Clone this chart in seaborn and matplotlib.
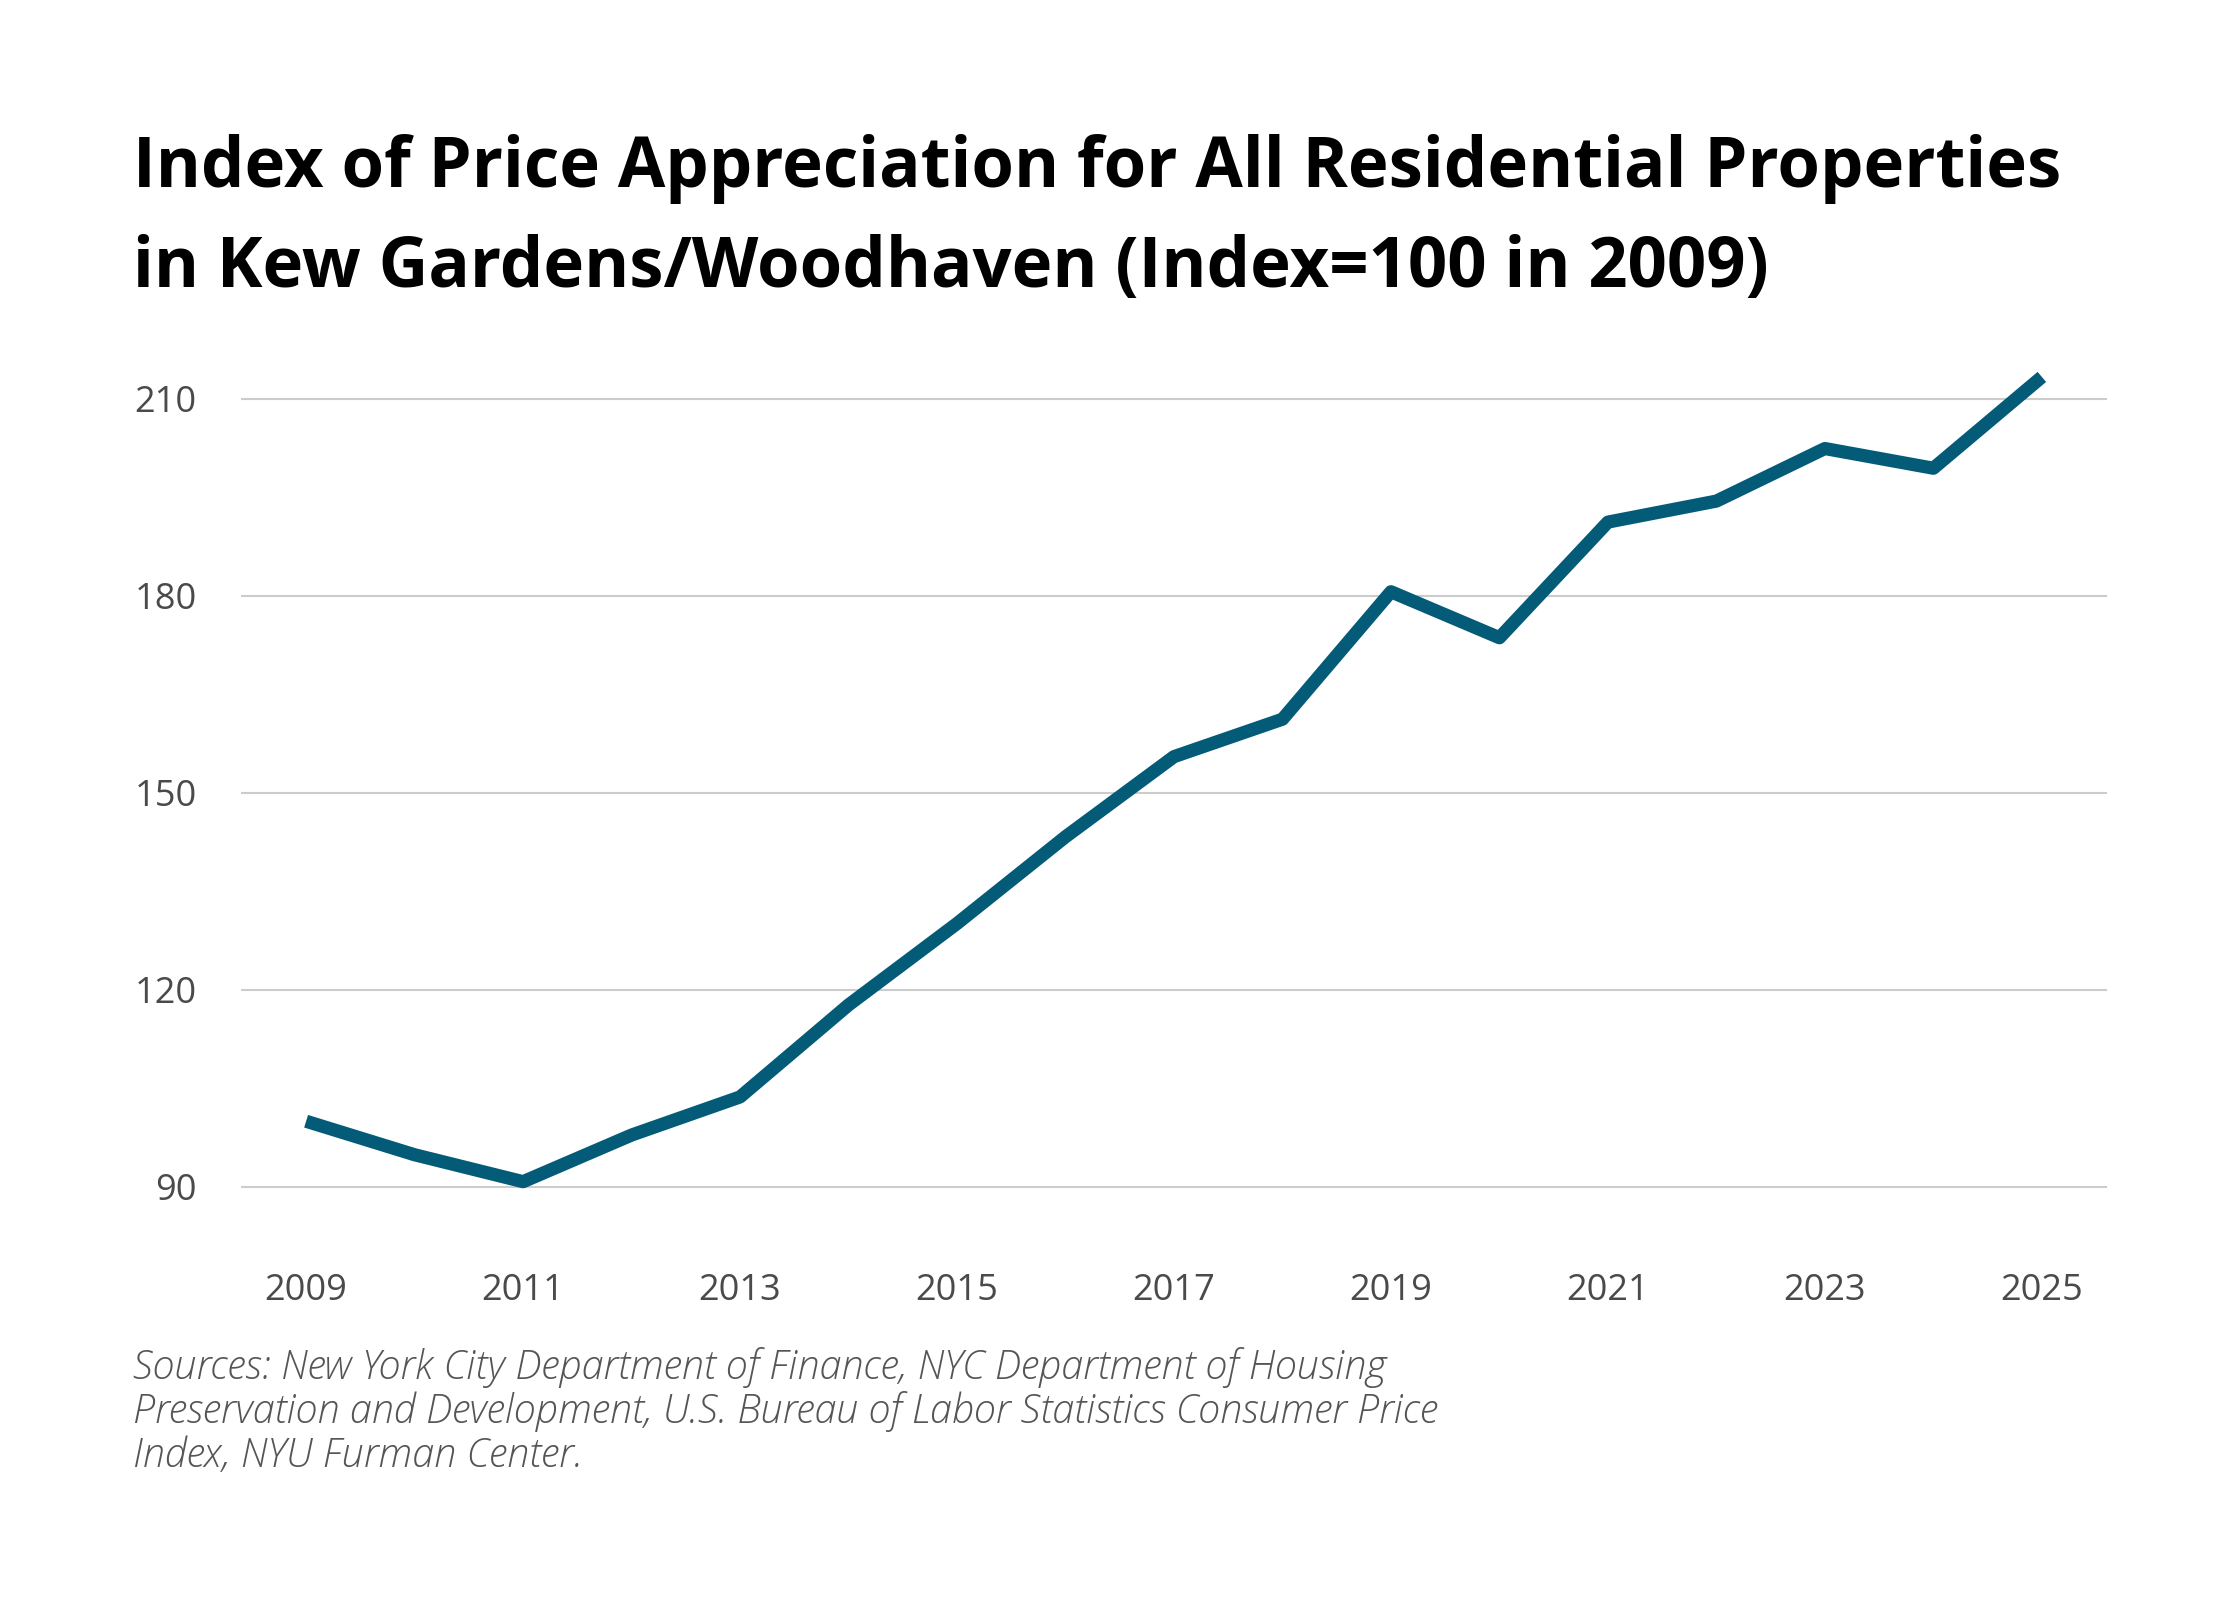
import pandas as pd
import seaborn as sns
import matplotlib.pyplot as plt

# data
years = [2009, 2010, 2011, 2012, 2013, 2014, 2015, 2016, 2017,
         2018, 2019, 2020, 2021, 2022, 2023, 2024, 2025]
index_values = [100.0, 94.9, 90.8, 97.9, 103.7, 117.7, 130.1, 143.3, 155.5,
                161.2, 180.6, 173.6, 191.2, 194.4, 202.4, 199.4, 213.3]
x_ticks = [2009, 2011, 2013, 2015, 2017, 2019, 2021, 2023, 2025]
y_ticks = [90, 120, 150, 180, 210]

title = ("Index of Price Appreciation for All Residential Properties\n"
         "in Kew Gardens/Woodhaven (Index=100 in 2009)")
source = ("Sources: New York City Department of Finance, NYC Department of Housing\n"
          "Preservation and Development, U.S. Bureau of Labor Statistics Consumer Price\n"
          "Index, NYU Furman Center.")

df = pd.DataFrame({'Year': years, 'Index': index_values})

sns.set_style('white')
plt.rcParams['font.family'] = ['Open Sans', 'DejaVu Sans']

fig = plt.figure(figsize=(22.4, 16), dpi=100)
ax = fig.add_axes([0.1076, 0.2171, 0.8330, 0.5543])

sns.lineplot(data=df, x='Year', y='Index', ax=ax, color='#035b78',
             linewidth=9.5, solid_joinstyle='round', solid_capstyle='butt')

ax.set_xlim(2008.4, 2025.6)
ax.set_ylim(80, 215)
ax.set_xticks(x_ticks)
ax.set_yticks(y_ticks)
ax.set_xticklabels([str(t) for t in x_ticks])
ax.set_yticklabels([str(t) for t in y_ticks])
ax.grid(axis='y', color='#cccccc', linewidth=1.5)
ax.set_axisbelow(True)
ax.set_xlabel('')
ax.set_ylabel('')
for s in ax.spines.values():
    s.set_visible(False)
ax.tick_params(axis='both', length=0, labelsize=26, colors='#4a4a4a')
ax.tick_params(axis='x', pad=15)
ax.tick_params(axis='y', pad=32)

fig.text(0.0594, 0.916, title, fontsize=49.5, fontweight='bold', color='black',
         va='top', ha='left', linespacing=1.55)
fig.text(0.0594, 0.158, source, fontsize=28.5, style='italic', fontweight='light',
         color='#555555', va='top', ha='left', linespacing=1.1)

fig.savefig('out.png', dpi=100, facecolor='white')
